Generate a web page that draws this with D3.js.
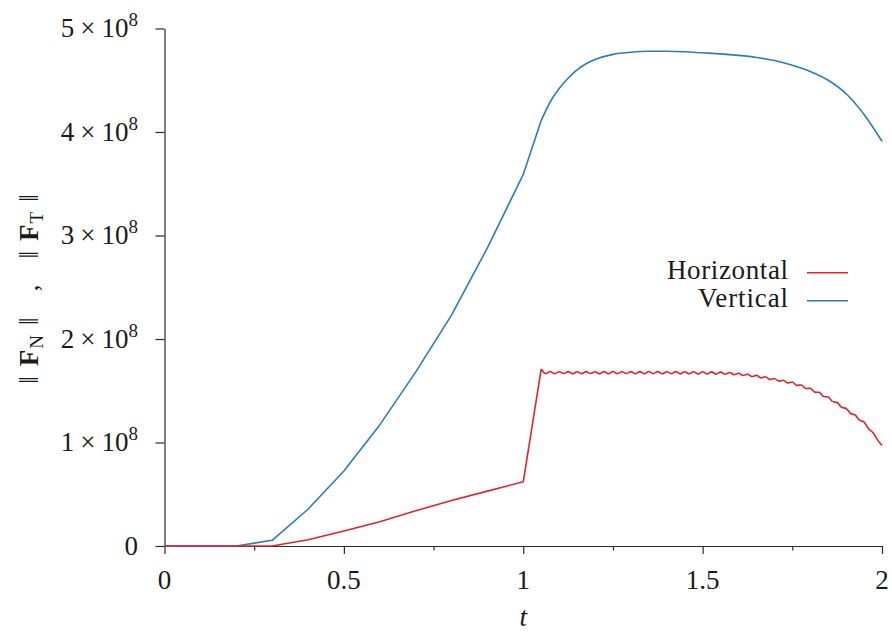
<!DOCTYPE html>
<html>
<head>
<meta charset="utf-8">
<script src="https://cdn.jsdelivr.net/npm/d3@7"></script>
<style>
  html, body { margin: 0; padding: 0; background: #fff; }
  svg { display: block; }
</style>
</head>
<body>
<svg id="chart" width="892" height="633"></svg>
<script>
// Force magnitudes, in units of 1e8, against time t
const verticalT = [0, 0.1, 0.2, 0.3, 0.4, 0.5, 0.6, 0.7, 0.8, 0.9, 1.0, 1.05,
  1.075, 1.1, 1.125, 1.15, 1.175, 1.2, 1.25, 1.3, 1.35, 1.4, 1.45, 1.5, 1.55, 1.6,
  1.65, 1.7, 1.75, 1.8, 1.85, 1.9, 1.95, 2.0];
const verticalF = [0, 0, 0, 0.055, 0.355, 0.725, 1.17, 1.68, 2.23, 2.88, 3.59, 4.11,
  4.29, 4.42, 4.52, 4.60, 4.66, 4.70, 4.75, 4.77, 4.78, 4.78, 4.775, 4.765, 4.755, 4.74,
  4.72, 4.69, 4.645, 4.585, 4.50, 4.37, 4.17, 3.91];

const horizontalT = [0, 0.1, 0.2, 0.3, 0.4, 0.5, 0.6, 0.7, 0.8, 0.9, 1.0,
  1.05, 1.0625, 1.075, 1.0875, 1.1, 1.1125, 1.125, 1.1375, 1.15, 1.1625,
  1.175, 1.1875, 1.2, 1.2125, 1.225, 1.2375, 1.25, 1.2625, 1.275, 1.2875,
  1.3, 1.3125, 1.325, 1.3375, 1.35, 1.3625, 1.375, 1.3875, 1.4, 1.4125,
  1.425, 1.4375, 1.45, 1.4625, 1.475, 1.4875, 1.5, 1.5125, 1.525, 1.5375,
  1.55, 1.5625, 1.575, 1.5875, 1.6, 1.6125, 1.625, 1.6375, 1.65, 1.6625,
  1.675, 1.6875, 1.7, 1.7125, 1.725, 1.7375, 1.75, 1.7625, 1.775, 1.7875,
  1.8, 1.8125, 1.825, 1.8375, 1.85, 1.8625, 1.875, 1.8875, 1.9, 1.9125,
  1.925, 1.9375, 1.95, 1.9625, 1.975, 1.9875, 2.0];
const horizontalF = [0, 0, 0, 0, 0.06, 0.145, 0.235, 0.34, 0.44, 0.53, 0.62,
  1.71, 1.666, 1.686, 1.665, 1.684, 1.666, 1.685, 1.664, 1.684, 1.665,
  1.685, 1.666, 1.684, 1.664, 1.685, 1.665, 1.686, 1.665, 1.684, 1.666,
  1.685, 1.664, 1.685, 1.665, 1.686, 1.666, 1.685, 1.664, 1.684, 1.665,
  1.685, 1.664, 1.684, 1.664, 1.683, 1.663, 1.683, 1.662, 1.682, 1.661,
  1.680, 1.659, 1.677, 1.656, 1.669, 1.647, 1.660, 1.637, 1.649, 1.624,
  1.635, 1.609, 1.619, 1.593, 1.602, 1.575, 1.584, 1.552, 1.556, 1.522,
  1.524, 1.487, 1.484, 1.444, 1.439, 1.395, 1.386, 1.340, 1.329, 1.280,
  1.266, 1.215, 1.197, 1.133, 1.095, 1.025, 0.970];

const xTicks = [0, 0.5, 1, 1.5, 2];
const xMinorTicks = [0.25, 0.75, 1.25, 1.75];
const xTickLabels = ["0", "0.5", "1", "1.5", "2"];
const yTicks = [0, 1, 2, 3, 4, 5];
const seriesNames = ["Horizontal", "Vertical"];
const seriesColors = ["#e3232b", "#2c7cbb"];
const normSubscripts = ["N", "T"];

const FONT = "Liberation Serif";
const fontSize = 27;
const axisColor = "#2b2b2b";
const textColor = "#1a1a1a";

const svg = d3.select("#chart");
svg.append("rect").attr("width", 892).attr("height", 633).attr("fill", "#fff");

function label(sel) {
  return sel.attr("font-family", FONT).attr("font-size", fontSize).attr("fill", textColor);
}

const x = d3.scaleLinear().domain([0, 2]).range([164.5, 882]);
const y = d3.scaleLinear().domain([0, 5]).range([546, 28.5]);

// x axis: major and minor ticks pointing down
const gx = svg.append("g").attr("transform", `translate(0,${y(0)})`);
gx.call(d3.axisBottom(x).tickValues(xTicks).tickSize(8).tickSizeOuter(0).tickFormat(() => ""));
gx.append("g").call(d3.axisBottom(x).tickValues(xMinorTicks).tickSize(4.5).tickSizeOuter(0).tickFormat(() => ""))
  .select(".domain").remove();
gx.selectAll("path, line").attr("stroke", axisColor).attr("stroke-width", 1.2);

svg.append("g").selectAll("text").data(xTicks).join("text")
  .call(label)
  .attr("x", d => x(d)).attr("y", 589)
  .attr("text-anchor", "middle")
  .text((d, i) => xTickLabels[i]);

// y axis: ticks pointing left
const gy = svg.append("g").attr("transform", `translate(${x(0)},0)`);
gy.call(d3.axisLeft(y).tickValues(yTicks).tickSize(9).tickSizeOuter(0).tickFormat(() => ""));
gy.selectAll("path, line").attr("stroke", axisColor).attr("stroke-width", 1.2);

const yLab = svg.append("g").selectAll("text").data(yTicks).join("text")
  .call(label)
  .attr("x", 138).attr("y", d => y(d) + 8.5)
  .attr("text-anchor", "end");
yLab.each(function (d) {
  const t = d3.select(this);
  if (d === 0) { t.text("0"); return; }
  t.append("tspan").text(d);
  t.append("tspan").attr("dx", 6).text("×");
  t.append("tspan").attr("dx", 6).text("10");
  t.append("tspan").attr("font-size", 19).attr("dy", -11).text("8");
});

// x title
svg.append("text").call(label)
  .attr("x", x(1)).attr("y", 626)
  .attr("text-anchor", "middle").attr("font-style", "italic").text("t");

// y title: ‖F_N‖ , ‖F_T‖ read bottom to top
const yTitle = svg.append("text").call(label)
  .attr("transform", "translate(38,289) rotate(-90)")
  .attr("text-anchor", "middle");
const gap = 10;
const commaGap = 26;
normSubscripts.forEach((sub, i) => {
  if (i > 0) yTitle.append("tspan").attr("dx", commaGap).text(",");
  yTitle.append("tspan").attr("dx", i > 0 ? commaGap : 0).text("‖");
  yTitle.append("tspan").attr("dx", gap).attr("font-weight", "bold").text("F");
  yTitle.append("tspan").attr("dx", 1).attr("font-size", 19).attr("dy", 5).text(sub);
  yTitle.append("tspan").attr("dx", gap).attr("dy", -5).text("‖");
});

// series: straight segments up to t = 1.05, smooth afterwards
const lin = d3.line().x(d => x(d[0])).y(d => y(d[1]));
const smooth = d3.line().x(d => x(d[0])).y(d => y(d[1])).curve(d3.curveMonotoneX);
function drawSeries(ts, fs, color) {
  const pts = ts.map((t, i) => [t, fs[i]]);
  const split = ts.indexOf(1.05);
  const g = svg.append("g").attr("fill", "none").attr("stroke", color)
    .attr("stroke-width", 1.6).attr("stroke-linejoin", "round");
  g.append("path").attr("d", lin(pts.slice(0, split + 1)));
  g.append("path").attr("d", smooth(pts.slice(split)));
}
drawSeries(verticalT, verticalF, seriesColors[1]);
drawSeries(horizontalT, horizontalF, seriesColors[0]);

// legend
const legendWidths = [121, 90];
const legend = svg.append("g");
seriesNames.forEach((name, i) => {
  const yy = 272.7 + i * 28;
  legend.append("text").call(label)
    .attr("x", 788).attr("y", yy + 6)
    .attr("text-anchor", "end")
    .attr("textLength", legendWidths[i]).attr("lengthAdjust", "spacing")
    .text(name);
  legend.append("line").attr("x1", 807).attr("x2", 848).attr("y1", yy).attr("y2", yy)
    .attr("stroke", seriesColors[i]).attr("stroke-width", 1.6);
});
</script>
</body>
</html>
